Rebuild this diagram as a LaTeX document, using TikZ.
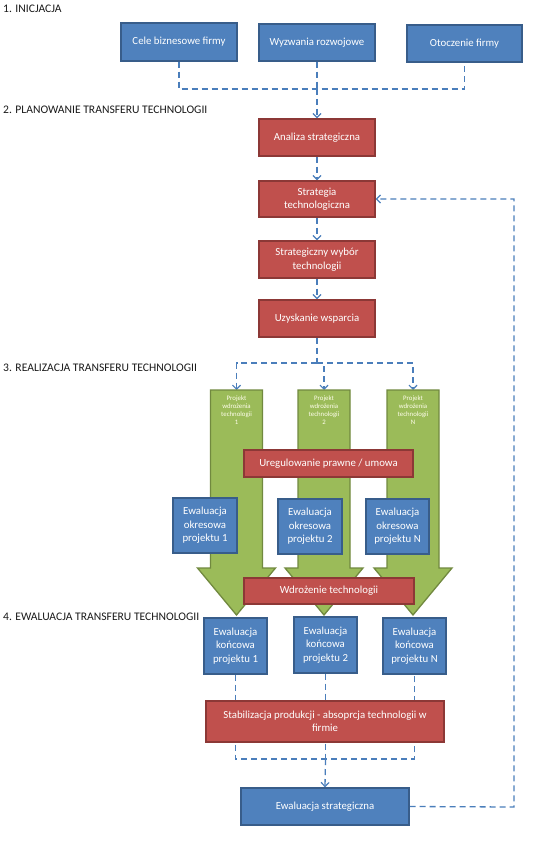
\documentclass[tikz,border=0pt]{standalone}
\usepackage{fontspec}
\setmainfont{Carlito}
\usetikzlibrary{arrows.meta}
\pgfdeclarelayer{back}
\pgfdeclarelayer{bg}
\pgfsetlayers{back,bg,main}
\definecolor{bfill}{HTML}{4F81BD}
\definecolor{bline}{HTML}{385D8A}
\definecolor{rfill}{HTML}{C0504D}
\definecolor{rline}{HTML}{8C3836}
\definecolor{gfill}{HTML}{9BBB59}
\definecolor{gline}{HTML}{71893F}
\definecolor{cline}{HTML}{4A7EBB}
\definecolor{ltxt}{HTML}{1A1A1A}
\tikzset{
  x=1pt, y=-1pt,
  boxbase/.style={rectangle, line width=1.4pt, inner sep=0pt, text=white, align=center,
    font=\fontsize{10.8}{13.5}\selectfont},
  bluebox/.style={boxbase, fill=bfill, draw=bline},
  redbox/.style={boxbase, fill=rfill, draw=rline},
  greenarrow/.style={fill=gfill, draw=gline, line width=1.3pt, line join=miter},
  gtext/.style={text=white!92!yellow, align=center, inner sep=0pt, font=\fontsize{6.8}{7.8}\selectfont},
  conn/.style={draw=cline, line width=1.3pt, dash pattern=on 6pt off 4pt},
  arr/.style={-{Straight Barb[length=4pt,width=8pt,line width=1.2pt]}},
  seclabel/.style={anchor=west, inner sep=0pt, text=ltxt, font=\fontsize{11.6}{13}\selectfont}
}
\begin{document}
\begin{tikzpicture}
\useasboundingbox (0,0) rectangle (557,861);
\begin{pgfonlayer}{back}
\fill[white] (0,0) rectangle (557,861);
\end{pgfonlayer}

% section labels
\node[seclabel] (l1) at (3,9) {1. INICJACJA};
\node[seclabel] (l2) at (3,110) {2. PLANOWANIE TRANSFERU TECHNOLOGII};
\node[seclabel] (l3) at (3,368) {3. REALIZACJA TRANSFERU TECHNOLOGII};
\node[seclabel] (l4) at (3,617) {4. EWALUACJA TRANSFERU TECHNOLOGII};

% green arrows
\foreach \cx/\nm in {236.5/1, 324/2, 413/N}{
  \draw[greenarrow] (\cx-26,390) -- (\cx+26,390) -- (\cx+26,568) -- (\cx+39,568)
     -- (\cx,615) -- (\cx-39,568) -- (\cx-26,568) -- cycle;
}
\node[gtext] (p1) at (236.5,410) {Projekt\\wdrożenia\\technologii\\1};
\node[gtext] (p2) at (324,410) {Projekt\\wdrożenia\\technologii\\2};
\node[gtext] (pN) at (413,410) {Projekt\\wdrożenia\\technologii\\N};
\coordinate (a1) at (236.5,390);
\coordinate (a2) at (324,390);
\coordinate (aN) at (413,390);

% stage 1
\node[bluebox, minimum width=116pt, minimum height=38pt] (cele) at (179,42) {Cele biznesowe firmy};
\node[bluebox, minimum width=116pt, minimum height=37pt] (wyz) at (317,42.5) {Wyzwania rozwojowe};
\node[bluebox, minimum width=115pt, minimum height=37pt] (oto) at (464.5,43.5) {Otoczenie firmy};

% stage 2
\node[redbox, minimum width=116pt, minimum height=37pt] (ana) at (317,137.5) {Analiza strategiczna};
\node[redbox, minimum width=116pt, minimum height=36pt] (st) at (317,199) {Strategia\\technologiczna};
\node[redbox, minimum width=116pt, minimum height=37pt] (swt) at (317,259.5) {Strategiczny wybór\\technologii};
\node[redbox, minimum width=116pt, minimum height=37pt] (uzy) at (317,318.5) {Uzyskanie wsparcia};

% stage 3
\node[redbox, minimum width=169pt, minimum height=27pt] (ureg) at (328.5,463.5) {Uregulowanie prawne / umowa};
\node[bluebox, minimum width=64pt, minimum height=55pt] (eo1) at (205,525.5) {Ewaluacja\\okresowa\\projektu 1};
\node[bluebox, minimum width=64pt, minimum height=55pt] (eo2) at (310,526.5) {Ewaluacja\\okresowa\\projektu 2};
\node[bluebox, minimum width=63pt, minimum height=55pt] (eoN) at (397.5,526.5) {Ewaluacja\\okresowa\\projektu N};
\node[redbox, minimum width=170pt, minimum height=26pt] (wdr) at (329,591) {Wdrożenie technologii};

% stage 4
\node[bluebox, minimum width=63pt, minimum height=56pt] (ek1) at (235.5,646) {Ewaluacja\\końcowa\\projektu 1};
\node[bluebox, minimum width=63pt, minimum height=56pt] (ek2) at (325.5,645) {Ewaluacja\\końcowa\\projektu 2};
\node[bluebox, minimum width=63pt, minimum height=56pt] (ekN) at (414.5,646) {Ewaluacja\\końcowa\\projektu N};
\node[redbox, minimum width=238pt, minimum height=41pt] (stab) at (325,721.5) {Stabilizacja produkcji - absoprcja technologii w\\firmie};
\node[bluebox, minimum width=168pt, minimum height=37pt] (es) at (325,806.5) {Ewaluacja strategiczna};

% connectors
\coordinate (j1) at (317,89);
\coordinate (j2) at (317,363);
\coordinate (j3) at (325.5,759);
\coordinate (fb) at (514,807);
\begin{pgfonlayer}{bg}
\draw[conn] (cele.south) -- (cele.south |- j1) -- (oto.south |- j1) -- (oto.south);
\draw[conn] (wyz.south) -- (j1);
\draw[conn, arr] (j1) -- (ana.north);
\draw[conn, arr] (ana.south) -- (st.north);
\draw[conn, arr] (st.south) -- (swt.north);
\draw[conn, arr] (swt.south) -- (uzy.north);
\draw[conn] (uzy.south) -- (j2);
\draw[conn, arr] (j2) -| (a1);
\draw[conn, arr] (j2) -| (a2);
\draw[conn, arr] (j2) -| (aN);
\draw[conn] (ek1.south) -- (ek1.south |- j3) -- (ekN.south |- j3) -- (ekN.south);
\draw[conn] (ek2.south) -- (j3);
\draw[conn, arr] (j3) -- (es.north);
\draw[conn, arr] (es.east) -- (fb) |- (st.east);
\end{pgfonlayer}
\end{tikzpicture}
\end{document}
